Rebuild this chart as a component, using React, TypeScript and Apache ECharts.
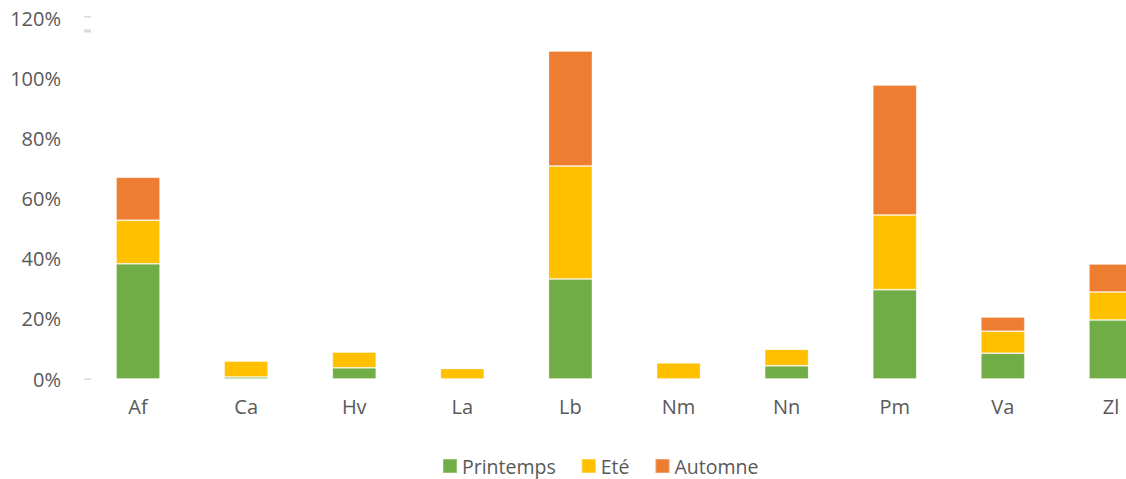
import React, { useEffect, useRef } from "react";
import * as echarts from "echarts";

const categories = ["Af", "Ca", "Hv", "La", "Lb", "Nm", "Nn", "Pm", "Va", "Zl"];
const printemps = [38.3, 0.7, 3.7, 0, 33.2, 0, 4.4, 29.7, 8.6, 19.6];
const ete = [14.5, 5.3, 5.3, 3.5, 37.6, 5.4, 5.5, 24.8, 7.3, 9.3];
const automne = [14.3, 0, 0, 0, 38.2, 0, 0, 43.2, 4.7, 9.3];
const seriesNames = ["Printemps", "Eté", "Automne"];
const colors = ["#70AD47", "#FFC000", "#ED7D31"];

export default function App() {
  const ref = useRef<HTMLDivElement>(null);
  useEffect(() => {
    document.body.style.margin = "0";
    const chart = echarts.init(ref.current!, null, { renderer: "svg" });
    const font = "'Open Sans', Lato, sans-serif";
    const data = [printemps, ete, automne];
    chart.setOption({
      animation: false,
      color: colors,
      textStyle: { fontFamily: font },
      grid: { left: 84, width: 1081, top: 18, height: 361, containLabel: false, outerBoundsMode: "none" },
      legend: {
        data: seriesNames,
        left: 437,
        top: 451,
        padding: 5,
        icon: "rect",
        itemWidth: 14,
        itemHeight: 14,
        itemGap: 25,
        textStyle: { color: "#595959", fontSize: 19.5, lineHeight: 20, fontFamily: font },
      },
      xAxis: {
        type: "category",
        data: categories,
        axisLine: { show: false },
        axisTick: { show: false },
        axisLabel: { color: "#595959", fontSize: 20, margin: 17, fontFamily: font },
      },
      yAxis: {
        type: "value",
        min: 0,
        max: 120,
        interval: 20,
        axisLine: { show: false },
        axisTick: { show: false },
        splitLine: { show: false },
        axisLabel: { color: "#595959", fontSize: 20, margin: 23, formatter: "{value}%", fontFamily: font },
      },
      series: seriesNames.map((name, i) => ({
        name,
        type: "bar",
        stack: "total",
        barWidth: 44,
        data: data[i],
        itemStyle: { color: colors[i], borderColor: "rgba(255,255,255,0.25)", borderWidth: 1 },
      })),
      graphic: [
        { type: "rect", shape: { x: 84, y: 378.5, width: 7, height: 1.5 }, style: { fill: "#d9d9d9" } },
        { type: "rect", shape: { x: 84, y: 16, width: 7, height: 1.5 }, style: { fill: "#d9d9d9" } },
        { type: "rect", shape: { x: 84, y: 29.5, width: 7, height: 3 }, style: { fill: "#d9d9d9" } },
      ],
    });
    return () => chart.dispose();
  }, []);
  return (
    <div style={{ width: 1126, height: 479, overflow: "hidden", position: "relative" }}>
      <div ref={ref} style={{ width: 1200, height: 479 }} />
    </div>
  );
}
